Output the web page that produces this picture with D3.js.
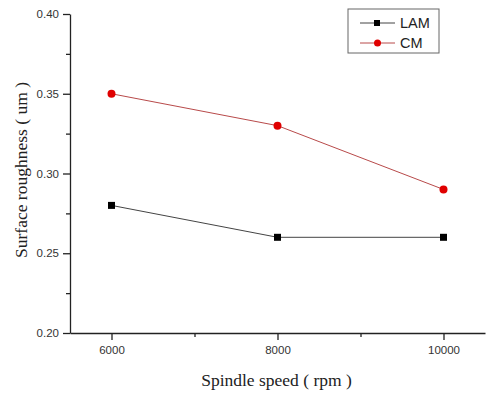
<!DOCTYPE html>
<html>
<head>
<meta charset="utf-8">
<script src="https://cdn.jsdelivr.net/npm/d3@7"></script>
<style>
  body { margin: 0; background: #fff; }
</style>
</head>
<body>
<div id="chart"></div>
<script>
// data
var speeds = [6000, 8000, 10000];
var lam = [0.28, 0.26, 0.26];
var cm = [0.35, 0.33, 0.29];
var xTicks = [6000, 8000, 10000];
var yTicks = [0.20, 0.25, 0.30, 0.35, 0.40];

var W = 490, H = 395;
var margin = {left: 70, right: 5, top: 14, bottom: 62};
var width = W - margin.left - margin.right;
var height = H - margin.top - margin.bottom;

var svg = d3.select("#chart").append("svg")
    .attr("width", W)
    .attr("height", H)
  .append("g")
    .attr("transform", "translate(" + margin.left + "," + margin.top + ")");

var x = d3.scaleLinear().domain([5500, 10500]).range([0, width]);
var y = d3.scaleLinear().domain([0.20, 0.40]).range([height, 0]);

// minor ticks first so the major ones sit on top
svg.append("g")
    .attr("transform", "translate(0," + height + ")")
    .call(d3.axisBottom(x).tickValues([7000, 9000]).tickSize(4).tickFormat(""))
    .call(function(g) { g.select(".domain").remove(); });
svg.append("g")
    .call(d3.axisLeft(y).tickValues([0.225, 0.275, 0.325, 0.375]).tickSize(4).tickFormat(""))
    .call(function(g) { g.select(".domain").remove(); });

// x axis
svg.append("g")
    .attr("class", "x axis")
    .attr("transform", "translate(0," + height + ")")
    .call(d3.axisBottom(x).tickValues(xTicks).tickSize(7).tickSizeOuter(0).tickPadding(6).tickFormat(d3.format("d")))
    .style("font-family", "Liberation Sans, Arial, sans-serif")
    .style("font-size", "11.5px");

// y axis
svg.append("g")
    .attr("class", "y axis")
    .call(d3.axisLeft(y).tickValues(yTicks).tickSize(7).tickSizeOuter(0).tickPadding(4).tickFormat(d3.format(".2f")))
    .style("font-family", "Liberation Sans, Arial, sans-serif")
    .style("font-size", "11.5px");

svg.selectAll(".domain, .tick line")
    .style("stroke", "#222")
    .style("stroke-width", "1.3px");
svg.selectAll(".tick text").style("fill", "#333");

// axis titles
svg.append("text")
    .attr("x", width / 2 - 1)
    .attr("y", height + 53)
    .style("text-anchor", "middle")
    .style("font-family", "Liberation Serif, Times New Roman, serif")
    .style("font-size", "17.5px")
    .style("fill", "#222")
    .text("Spindle speed ( rpm )");

svg.append("text")
    .attr("transform", "rotate(-90)")
    .attr("x", -156)
    .attr("y", -43)
    .style("text-anchor", "middle")
    .style("font-family", "Liberation Serif, Times New Roman, serif")
    .style("font-size", "17.5px")
    .style("fill", "#222")
    .text("Surface roughness ( um )");

var line = d3.line()
    .x(function(d) { return x(d[0]); })
    .y(function(d) { return y(d[1]); });

var lamData = speeds.map(function(s, i) { return [s, lam[i]]; });
var cmData = speeds.map(function(s, i) { return [s, cm[i]]; });

svg.append("path")
    .datum(lamData)
    .attr("d", line)
    .style("fill", "none")
    .style("stroke", "#444")
    .style("stroke-width", "1px");

svg.append("path")
    .datum(cmData)
    .attr("d", line)
    .style("fill", "none")
    .style("stroke", "#b84a4a")
    .style("stroke-width", "1px");

svg.selectAll(".sq")
    .data(lamData)
  .enter().append("rect")
    .attr("class", "sq")
    .attr("x", function(d) { return x(d[0]) - 3.5; })
    .attr("y", function(d) { return y(d[1]) - 3.5; })
    .attr("width", 7)
    .attr("height", 7)
    .style("fill", "#000");

svg.selectAll(".dot")
    .data(cmData)
  .enter().append("circle")
    .attr("class", "dot")
    .attr("cx", function(d) { return x(d[0]); })
    .attr("cy", function(d) { return y(d[1]); })
    .attr("r", 4)
    .style("fill", "#e00000");

// legend
var legend = svg.append("g")
    .attr("transform", "translate(" + (348 - margin.left) + "," + (9 - margin.top) + ")");

legend.append("rect")
    .attr("width", 91)
    .attr("height", 44)
    .style("fill", "#fff")
    .style("stroke", "#666")
    .style("stroke-width", "1px");

var items = [
  {name: "LAM", line: "#444", fill: "#000", shape: "square"},
  {name: "CM", line: "#b84a4a", fill: "#e00000", shape: "circle"}
];

items.forEach(function(it, i) {
  var g = legend.append("g").attr("transform", "translate(0," + (14 + i * 20) + ")");
  g.append("line")
      .attr("x1", 12).attr("x2", 47)
      .style("stroke", it.line)
      .style("stroke-width", "1px");
  if (it.shape === "square") {
    g.append("rect").attr("x", 26).attr("y", -3).attr("width", 6).attr("height", 6).style("fill", it.fill);
  } else {
    g.append("circle").attr("cx", 29.5).attr("r", 3.5).style("fill", it.fill);
  }
  g.append("text")
      .attr("x", 52)
      .attr("dy", "0.36em")
      .style("font-family", "Liberation Sans, Arial, sans-serif")
      .style("font-size", "14.5px")
      .style("fill", "#222")
      .text(it.name);
});
</script>
</body>
</html>
